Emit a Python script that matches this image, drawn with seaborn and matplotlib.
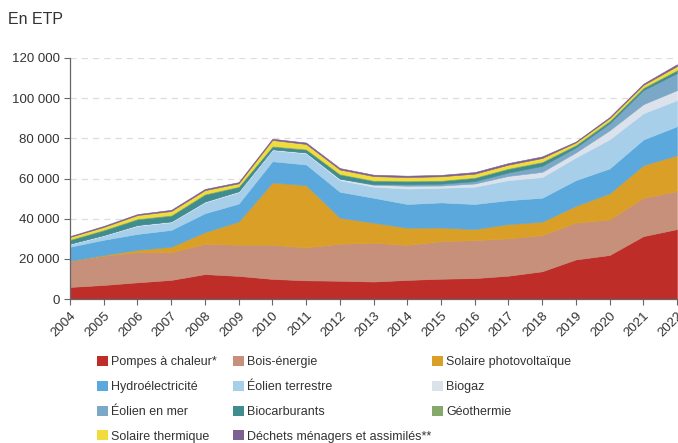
import matplotlib
matplotlib.use("Agg")
import seaborn as sns
from matplotlib import pyplot as plt
from matplotlib.patches import Patch
from matplotlib.ticker import FuncFormatter

# %% data (emplois, en ETP)
years = list(range(2004, 2023))
pompes = [6000, 7000, 8300, 9500, 12400, 11500, 10000, 9300, 9100, 8700,
          9500, 10100, 10400, 11600, 13800, 19700, 21900, 31300, 34800]
bois = [12800, 14500, 15000, 13800, 15000, 15500, 17000, 16400, 18400, 19300,
        17400, 18700, 18900, 18600, 18000, 18300, 17700, 19100, 18900]
solaire_pv = [200, 400, 1200, 2700, 5900, 11600, 31000, 31000, 13000, 10000,
              8600, 6800, 5500, 7100, 6700, 8400, 13000, 16200, 17900]
hydro = [7000, 7600, 7900, 8400, 9400, 8900, 10600, 10300, 12900, 12400,
         11800, 12500, 12500, 11900, 11900, 12800, 12400, 12800, 14400]
eolien_terre = [1200, 2000, 4000, 3800, 5400, 5700, 5500, 5500, 5800, 5500,
                7700, 7300, 8600, 10000, 10300, 11300, 14500, 13100, 13000]
biogaz = [400, 400, 500, 500, 500, 500, 500, 500, 700, 1000,
          1400, 1100, 1600, 2100, 2600, 2500, 4500, 4500, 5000]
eolien_mer = [0, 0, 0, 0, 0, 0, 0, 0, 100, 300,
              700, 900, 1200, 1700, 3000, 2500, 3500, 7000, 8500]
biocarburants = [1800, 2300, 2800, 2800, 3400, 2100, 1300, 1400, 2000, 1600,
                 1500, 1400, 1600, 1800, 1800, 1000, 1000, 1000, 1300]
geothermie = [400, 400, 400, 400, 400, 400, 400, 400, 400, 400,
              400, 400, 400, 400, 400, 400, 400, 400, 400]
solaire_th = [1100, 1300, 1700, 1900, 1800, 1400, 2900, 2400, 2100, 2000,
              1700, 1900, 1700, 1700, 1700, 1100, 1200, 1200, 1800]
dechets = [400, 500, 500, 600, 600, 600, 600, 700, 700, 700,
           700, 700, 800, 800, 800, 400, 500, 600, 900]

labels = ["Pompes à chaleur*", "Bois-énergie", "Solaire photovoltaïque",
          "Hydroélectricité", "Éolien terrestre", "Biogaz", "Éolien en mer",
          "Biocarburants", "Géothermie", "Solaire thermique",
          "Déchets ménagers et assimilés**"]
series = [pompes, bois, solaire_pv, hydro, eolien_terre, biogaz, eolien_mer,
          biocarburants, geothermie, solaire_th, dechets]
palette = sns.color_palette(["#bf2d29", "#c6907a", "#da9f27", "#5ba8dc",
                             "#a7cfea", "#dce2ec", "#7ba8c6", "#3f8d8f",
                             "#84a96a", "#f0dc3c", "#7e5f92"])

# %% plot
sns.set_style("white")
plt.rcParams["font.family"] = ["Liberation Sans", "DejaVu Sans"]

fig = plt.figure(figsize=(6.78, 4.43), dpi=100)
ax = fig.add_axes([70 / 678, 1 - 299 / 443, 607 / 678, 241 / 443])

polys = ax.stackplot(years, *series, colors=palette, labels=labels)
for p, c in zip(polys, palette):
    p.set_edgecolor(c)
    p.set_linewidth(0.4)

ax.set_xlim(2004, 2022)
ax.set_ylim(0, 120000)
ax.set_yticks(range(0, 120001, 20000))
ax.set_xticks(years)
ax.yaxis.set_major_formatter(FuncFormatter(lambda v, _: f"{int(v):,}".replace(",", " ")))
ax.yaxis.grid(True, color="#dddddd", linestyle=(0, (5, 4)), linewidth=0.9)
ax.set_axisbelow(True)

for s in ("top", "right"):
    ax.spines[s].set_visible(False)
for s in ("left", "bottom"):
    ax.spines[s].set_color("#666666")
    ax.spines[s].set_linewidth(0.9)
ax.tick_params(axis="both", which="major", length=4, width=0.8, color="#666666",
               labelsize=9.5, labelcolor="#333333", left=True, bottom=True)
plt.setp(ax.get_xticklabels(), rotation=45, ha="right", rotation_mode="anchor")

fig.text(8 / 678, 1 - 19 / 443, "En ETP", fontsize=11.5, color="#333333", va="center")

# legend, row by row in 3 columns
cols = [[0, 3, 6, 9], [1, 4, 7, 10], [2, 5, 8]]
col_x = [97, 233, 432]
for idx, x in zip(cols, col_x):
    handles = [Patch(facecolor=palette[i], edgecolor="none") for i in idx]
    leg = fig.legend(handles, [labels[i] for i in idx], loc="upper left",
                     bbox_to_anchor=(x / 678, 1 - 356 / 443), frameon=False,
                     fontsize=9, handlelength=0.85, handleheight=0.85,
                     handletextpad=0.3, labelspacing=1.0, borderpad=0,
                     borderaxespad=0)
    for t in leg.get_texts():
        t.set_color("#333333")

plt.savefig("out.png", dpi=100)
